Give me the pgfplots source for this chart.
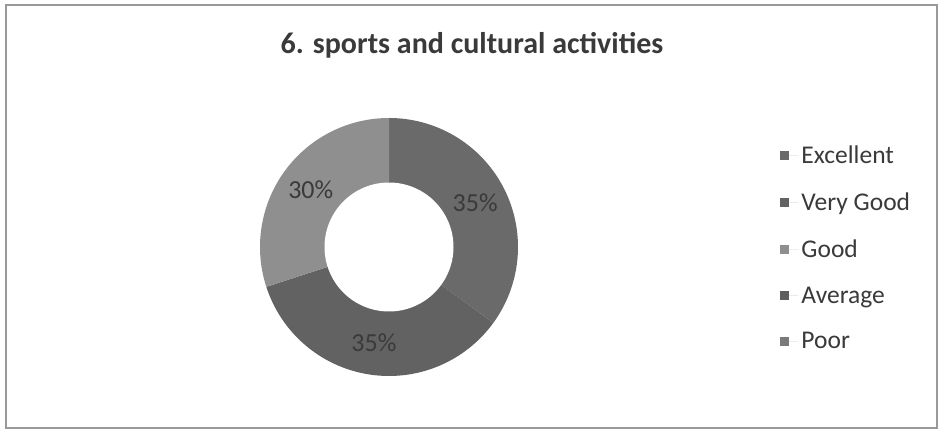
\documentclass[border=0pt]{standalone}
\usepackage{pgfplots}
\usepackage{pgfplotstable}
\pgfplotsset{compat=1.18}
\usepackage{fontspec}
\setmainfont{Carlito}
\definecolor{cExc}{HTML}{6A6A6A}
\definecolor{cVG}{HTML}{626262}
\definecolor{cGood}{HTML}{8F8F8F}
\definecolor{cAvg}{HTML}{5E5E5E}
\definecolor{cPoor}{HTML}{7A7A7A}
\definecolor{txt}{HTML}{3A3A3A}
\pgfplotstableread{
label value
Excellent 35
VeryGood 35
Good 30
Average 0
Poor 0
}\datatable
\begin{document}
\begin{tikzpicture}
\useasboundingbox (0pt,0pt) rectangle (940pt,430pt);
\fill[white] (0pt,0pt) rectangle (940pt,430pt);
\draw[black!40, line width=1.5pt] (6pt,2pt) rectangle (937pt,425pt);
\node[font=\bfseries\fontsize{30}{36}\selectfont, text=txt, anchor=base] at (472pt,376pt) {6. sports and cultural activities};
\coordinate (C) at (389pt,183pt);
\pgfplotstablegetelem{0}{value}\of\datatable \let\vA\pgfplotsretval
\pgfplotstablegetelem{1}{value}\of\datatable \let\vB\pgfplotsretval
\pgfplotstablegetelem{2}{value}\of\datatable \let\vC\pgfplotsretval
\pgfmathsetmacro\aA{90}
\pgfmathsetmacro\aB{90-3.6*\vA}
\pgfmathsetmacro\aC{\aB-3.6*\vB}
\pgfmathsetmacro\aD{\aC-3.6*\vC}
\pgfmathsetmacro\mA{(\aA+\aB)/2}
\pgfmathsetmacro\mB{(\aB+\aC)/2}
\pgfmathsetmacro\mC{(\aC+\aD)/2}
\begin{axis}[at={(C)}, anchor=origin, scale only axis,
  width=258pt, height=258pt, xmin=-1, xmax=1, ymin=-1, ymax=1,
  hide axis, clip=false,
  legend cell align=left,
  legend image code/.code={\path[#1] (0pt,-4.5pt) rectangle (9pt,4.5pt); \path (0pt,0pt) -- (18pt,0pt);},
  legend style={draw=none, fill=none, at={(2.005,0.912)}, anchor=north west,
    font=\fontsize{25.5}{30}\selectfont, text=txt, row sep=21.8pt,
    nodes={inner sep=3pt}},
]
\addplot[fill=cExc, draw=none, domain=\aB:\aA, samples=90] ({cos(x)},{sin(x)}) -- (0,0) -- cycle;
\addlegendentry{Excellent}
\addplot[fill=cVG, draw=none, domain=\aC:\aB, samples=90] ({cos(x)},{sin(x)}) -- (0,0) -- cycle;
\addlegendentry{Very Good}
\addplot[fill=cGood, draw=none, domain=\aD:\aC, samples=90] ({cos(x)},{sin(x)}) -- (0,0) -- cycle;
\addlegendentry{Good}
\addlegendimage{fill=cAvg, draw=none}
\addlegendentry{Average}
\addlegendimage{fill=cPoor, draw=none}
\addlegendentry{Poor}
\addplot[fill=white, draw=none, domain=0:360, samples=120, forget plot] ({0.5*cos(x)},{0.5*sin(x)}) -- cycle;
\node[font=\fontsize{26}{30}\selectfont, text=txt] at (axis cs:{0.75*cos(\mA)},{0.75*sin(\mA)}) {\vA\%};
\node[font=\fontsize{26}{30}\selectfont, text=txt] at (axis cs:{0.75*cos(\mB)},{0.75*sin(\mB)}) {\vB\%};
\node[font=\fontsize{26}{30}\selectfont, text=txt] at (axis cs:{0.75*cos(\mC)},{0.75*sin(\mC)}) {\vC\%};
\end{axis}
\end{tikzpicture}
\end{document}
